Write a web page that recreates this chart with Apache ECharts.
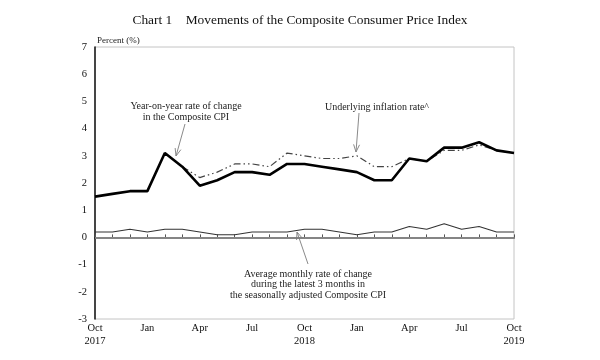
<!DOCTYPE html>
<html>
<head>
<meta charset="utf-8">
<script src="https://cdn.jsdelivr.net/npm/echarts@6/dist/echarts.min.js"></script>
<style>html,body{margin:0;padding:0;background:#fff}#c{width:600px;height:360px}</style>
</head>
<body>
<div id="c"></div>
<script>
const months = ['Oct\n2017','Nov','Dec','Jan','Feb','Mar','Apr','May','Jun','Jul','Aug','Sep',
  'Oct\n2018','Nov','Dec','Jan','Feb','Mar','Apr','May','Jun','Jul','Aug','Sep','Oct\n2019'];
const yoyCPI = [1.5,1.6,1.7,1.7,3.1,2.6,1.9,2.1,2.4,2.4,2.3,2.7,2.7,2.6,2.5,2.4,2.1,2.1,2.9,2.8,3.3,3.3,3.5,3.2,3.1];
const underlying = [null,null,null,null,null,2.6,2.2,2.4,2.7,2.7,2.6,3.1,3.0,2.9,2.9,3.0,2.6,2.6,2.9,2.8,3.2,3.2,3.4,3.2,3.1];
const avgMonthly = [0.2,0.2,0.3,0.2,0.3,0.3,0.2,0.1,0.1,0.2,0.2,0.2,0.3,0.3,0.2,0.1,0.2,0.2,0.4,0.3,0.5,0.3,0.4,0.2,0.2];
const yTicks = {min:-3, max:7, interval:1};

const FONT = 'Liberation Serif';
const chart = echarts.init(document.getElementById('c'));
const gray = '#8a8a8a';
function arrow(x1,y1,x2,y2){
  const a = Math.atan2(y2-y1, x2-x1), L = 8, w = 0.38;
  return [
    {type:'line', shape:{x1,y1,x2,y2}, style:{stroke:gray, lineWidth:1}},
    {type:'polyline', shape:{points:[[x2-L*Math.cos(a-w), y2-L*Math.sin(a-w)],[x2,y2],[x2-L*Math.cos(a+w), y2-L*Math.sin(a+w)]]}, style:{stroke:gray, lineWidth:1, fill:null}}
  ];
}
const txt = (x,y,t)=>({type:'text', x, y, style:{text:t, font:'10px "'+FONT+'"', fill:'#222', align:'center', verticalAlign:'middle', lineHeight:11}});
chart.setOption({
  animation:false,
  backgroundColor:'#fff',
  title:{text:'Chart 1    Movements of the Composite Consumer Price Index', left:'center', top:9, textStyle:{fontFamily:FONT, fontSize:13.4, fontWeight:'normal', color:'#111'}},
  grid:{left:95, right:86, top:47, bottom:41, show:true, borderColor:'#c4c4c4', borderWidth:1},
  xAxis:{type:'category', data:months, boundaryGap:false,
    axisLine:{lineStyle:{color:'#111', width:1.5}},
    axisTick:{inside:true, interval:0, length:3, lineStyle:{color:'#555'}},
    axisLabel:{interval:2, margin:3, fontFamily:FONT, fontSize:10.5, color:'#111', lineHeight:13},
    splitLine:{show:false}},
  yAxis:{type:'value', min:yTicks.min, max:yTicks.max, interval:yTicks.interval,
    axisLine:{show:true, lineStyle:{color:'#111', width:1.5}},
    axisTick:{show:false},
    axisLabel:{margin:8, fontFamily:FONT, fontSize:10.5, color:'#111'},
    splitLine:{show:false}},
  series:[
    {type:'line', data:avgMonthly, symbol:'none', lineStyle:{color:'#333', width:1.1}, z:3,
      markLine:{silent:true, symbol:'none', label:{show:false}, lineStyle:{color:'#999', width:1.5, type:'solid'}, data:[{yAxis:0}]}},
    {type:'line', data:underlying, symbol:'none', lineStyle:{color:'#444', width:1.2, type:[7,3,1.5,3,1.5,3]}, z:3},
    {type:'line', data:yoyCPI, symbol:'none', lineStyle:{color:'#000', width:2.6}, z:4}
  ],
  graphic:[
    {type:'text', x:97, y:41, style:{text:'Percent (%)', font:'9px "'+FONT+'"', fill:'#222', verticalAlign:'middle'}},
    txt(186,106,'Year-on-year rate of change'),
    txt(186,117,'in the Composite CPI'),
    ...arrow(185,124,176,156),
    txt(377,107,'Underlying inflation rate^'),
    ...arrow(359,113,356,152),
    txt(308,274,'Average monthly rate of change'),
    txt(308,284.5,'during the latest 3 months in'),
    txt(308,295,'the seasonally adjusted Composite CPI'),
    ...arrow(308,264,297,232)
  ]
});
</script>
</body>
</html>
